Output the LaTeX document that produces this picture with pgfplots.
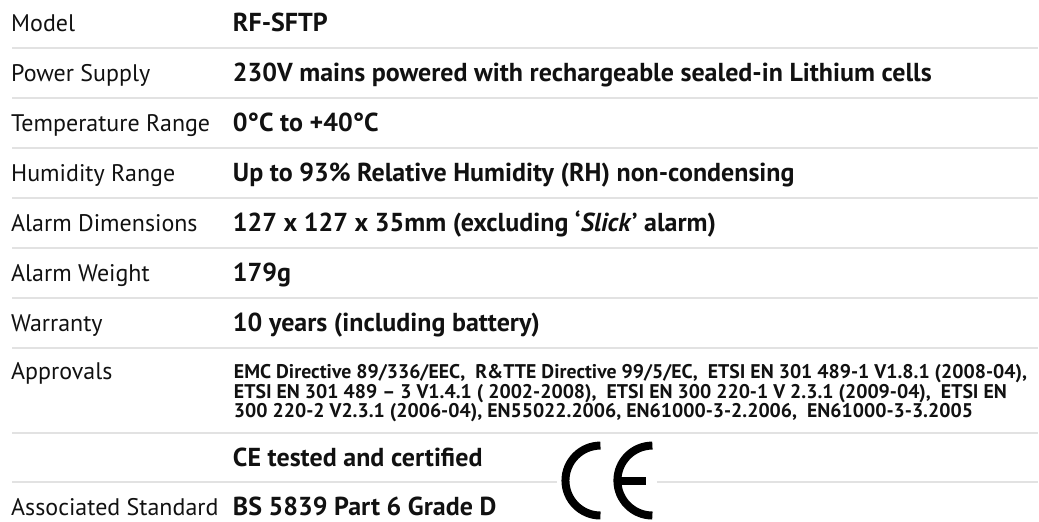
\documentclass[border=0pt]{standalone}
\usepackage{fontspec}
\setmainfont{PT Sans}
\usepackage{pgfplots}
\pgfplotsset{compat=1.18}
\definecolor{rule}{HTML}{E2E2E2}
\definecolor{ink}{HTML}{111111}
\newcommand{\lbl}{\fontsize{24}{28}\selectfont}
\newcommand{\val}{\fontsize{26}{30}\selectfont\bfseries}
\newcommand{\sml}{\fontsize{19.8}{20}\selectfont\bfseries}
\begin{document}
\begin{tikzpicture}
\begin{axis}[x=1pt, y=1pt, xmin=0, xmax=1039, ymin=0, ymax=522,
  y dir=reverse, enlargelimits=false, hide axis, clip=false,
  anchor=north west, at={(0,0)}]
\path (axis cs:0,0) rectangle (axis cs:1039,522);
% divider rules
\addplot[rule, line width=2pt] coordinates {(12,48) (1039,48)};
\addplot[rule, line width=2pt] coordinates {(12,98) (1039,98)};
\addplot[rule, line width=2pt] coordinates {(12,148) (1039,148)};
\addplot[rule, line width=2pt] coordinates {(12,198) (1039,198)};
\addplot[rule, line width=2pt] coordinates {(12,248) (1039,248)};
\addplot[rule, line width=2pt] coordinates {(12,298) (1039,298)};
\addplot[rule, line width=2pt] coordinates {(12,348) (1039,348)};
\addplot[rule, line width=2pt] coordinates {(12,433) (1039,433)};
\addplot[rule, line width=2pt] coordinates {(12,482) (1039,482)};
% labels
\begin{scope}[every node/.style={anchor=base west, inner sep=0pt, text=ink}]
\node[font=\lbl] at (axis cs:11,32) {Model};
\node[font=\lbl] at (axis cs:11,82) {Power Supply};
\node[font=\lbl] at (axis cs:11,132) {Temperature Range};
\node[font=\lbl] at (axis cs:11,182) {Humidity Range};
\node[font=\lbl] at (axis cs:11,232) {Alarm Dimensions};
\node[font=\lbl] at (axis cs:11,282) {Alarm Weight};
\node[font=\lbl] at (axis cs:11,332) {Warranty};
\node[font=\lbl] at (axis cs:11,380) {Approvals};
\node[font=\lbl] at (axis cs:11,516) {Associated Standard};
% values
\node[font=\val] at (axis cs:233,32) {RF-SFTP};
\node[font=\val] at (axis cs:233,82) {230V mains powered with rechargeable sealed-in Lithium cells};
\node[font=\val] at (axis cs:233,132) {0°C to +40°C};
\node[font=\val] at (axis cs:233,182) {Up to 93\% Relative Humidity (RH) non-condensing};
\node[font=\val] at (axis cs:233,232) {127 x 127 x 35mm (excluding ‘\textit{Slick}’ alarm)};
\node[font=\val] at (axis cs:233,282) {179g};
\node[font=\val] at (axis cs:233,332) {10 years (including battery)};
\node[font=\sml] at (axis cs:234,379) {EMC Directive 89/336/EEC,\ \ R\&TTE Directive 99/5/EC,\ \ ETSI EN 301 489-1 V1.8.1 (2008-04),};
\node[font=\sml] at (axis cs:234,398.5) {ETSI EN 301 489 – 3 V1.4.1 ( 2002-2008),\ \ ETSI EN 300 220-1 V 2.3.1 (2009-04),\ \ ETSI EN};
\node[font=\sml] at (axis cs:234,418) {300 220-2 V2.3.1 (2006-04), EN55022.2006, EN61000-3-2.2006,\ \ EN61000-3-3.2005};
\node[font=\val] at (axis cs:233,467) {CE tested and certified};
\node[font=\val] at (axis cs:233,516) {BS 5839 Part 6 Grade D};
\end{scope}
% CE mark
\fill[white] (axis cs:558,470) rectangle (axis cs:658,495);
\draw[black, line width=8pt] (axis cs:601,446) arc[start angle=90, end angle=270, radius=35pt];
\draw[black, line width=8pt] (axis cs:653,446) arc[start angle=90, end angle=270, radius=35pt];
\draw[black, line width=8pt] (axis cs:617,481) -- (axis cs:647,481);
\end{axis}
\end{tikzpicture}
\end{document}
